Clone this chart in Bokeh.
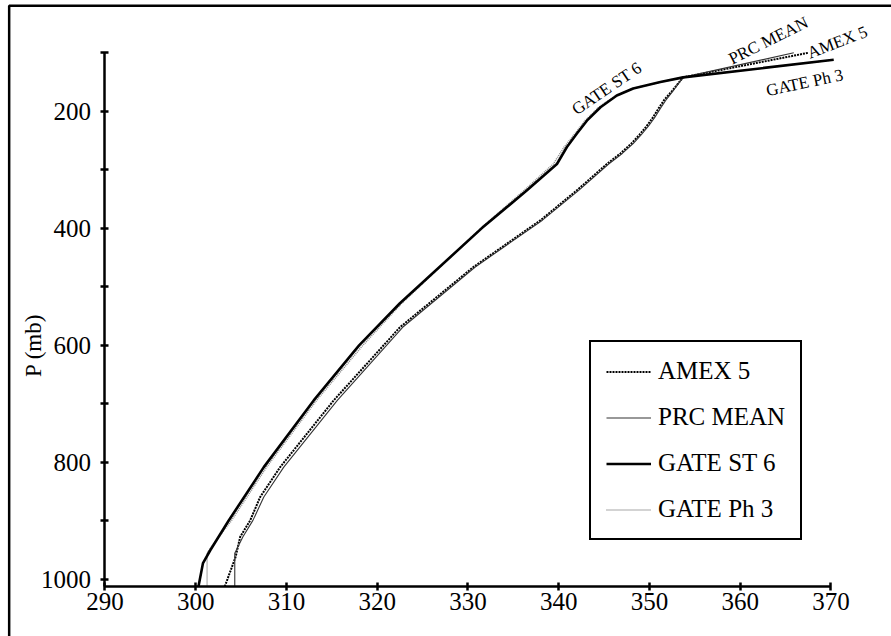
import math
from bokeh.plotting import figure
from bokeh.models import Range1d, FixedTicker, Legend, LegendItem, Label, BoxAnnotation
from bokeh.embed import file_html
from bokeh.resources import INLINE

# Equivalent potential temperature profiles (K) vs pressure (mb)
amex_P = [1012, 961, 927, 899, 859, 808, 694, 569, 466, 386, 335, 290, 272, 255, 240, 225, 210, 195, 181, 165, 142, 100]
amex_T = [303.2, 304.4, 304.9, 306.0, 307.1, 309.3, 315.2, 322.5, 330.6, 338.0, 342.0, 345.3, 346.8, 348.0, 348.9, 349.7, 350.4, 351.0, 351.6, 352.5, 353.7, 367.5]

prc_P = [1012, 955, 927, 899, 859, 808, 694, 569, 466, 386, 335, 290, 272, 255, 240, 225, 210, 195, 181, 165, 142, 100]
prc_T = [304.3, 304.3, 305.2, 306.3, 307.5, 309.7, 315.6, 322.8, 330.8, 338.2, 342.2, 345.5, 347.0, 348.2, 349.1, 349.9, 350.6, 351.2, 351.8, 352.6, 353.7, 365.9]

st6_P = [1012, 972, 950, 900, 808, 694, 600, 528, 400, 335, 290, 261, 238, 216, 193, 173, 161, 150, 142, 112]
st6_T = [300.3, 300.8, 301.6, 303.6, 307.5, 313.0, 318.0, 322.5, 331.5, 336.5, 339.8, 340.9, 342.0, 343.1, 344.6, 346.4, 348.2, 351.2, 353.7, 370.3]

ph3_P = [1012, 955, 930, 900, 808, 694, 600, 528, 400, 335, 290, 261, 238, 216, 193, 173, 161, 150, 142, 112]
ph3_T = [301.25, 301.25, 302.4, 303.9, 307.8, 313.3, 318.4, 322.7, 331.4, 336.2, 339.4, 340.6, 341.8, 342.9, 344.4, 346.3, 348.2, 351.2, 353.7, 370.3]

x_ticks = [290, 300, 310, 320, 330, 340, 350, 360, 370]
y_ticks = [100, 200, 300, 400, 500, 600, 700, 800, 900, 1000]
y_labels = {100: "", 200: "200", 300: "", 400: "400", 500: "", 600: "600", 700: "", 800: "800", 900: "", 1000: "1000"}

FONT = "Liberation Serif"

# the plotting frame covers the whole canvas; axes are pinned inside it
p = figure(width=891, height=636, output_backend="svg", toolbar_location=None,
           x_range=Range1d(278.485, 376.667), y_range=Range1d(1097.4, 10.63),
           min_border_left=0, min_border_right=0, min_border_top=0, min_border_bottom=0)
p.outline_line_color = None
p.xgrid.visible = False
p.ygrid.visible = False
p.background_fill_color = "white"
p.border_fill_color = "white"

p.xaxis.fixed_location = 1012
p.yaxis.fixed_location = 290
p.xaxis.bounds = (290, 370)
p.yaxis.bounds = (100, 1012)

for ax in (p.xaxis[0], p.yaxis[0]):
    ax.axis_line_width = 2.5
    ax.axis_line_color = "black"
    ax.major_tick_line_width = 2.5
    ax.major_tick_line_color = "black"
    ax.major_tick_in = 4
    ax.major_tick_out = 4
    ax.minor_tick_line_color = None
    ax.major_label_text_font = FONT
    ax.major_label_text_font_size = "25px"
    ax.major_label_text_color = "black"

p.xaxis.ticker = FixedTicker(ticks=x_ticks)
p.yaxis.ticker = FixedTicker(ticks=y_ticks)
p.yaxis.major_label_overrides = y_labels
p.yaxis.major_label_standoff = 10
p.xaxis.major_label_standoff = 2

r_amex = p.line(amex_T, amex_P, line_color="black", line_width=2.0, line_dash="2 1")
r_prc = p.line(prc_T, prc_P, line_color="#333333", line_width=1.1)
r_ph3 = p.line(ph3_T, ph3_P, line_color="#8a8a8a", line_width=1.6, line_dash="1 1")
r_st6 = p.line(st6_T, st6_P, line_color="black", line_width=2.6)

legend = Legend(items=[
    LegendItem(label="AMEX 5", renderers=[r_amex]),
    LegendItem(label="PRC MEAN", renderers=[r_prc]),
    LegendItem(label="GATE ST 6", renderers=[r_st6]),
    LegendItem(label="GATE Ph 3", renderers=[r_ph3]),
], location=(589, 96), orientation="vertical")
legend.margin = 0
legend.padding = 15
legend.spacing = 18
legend.label_height = 25
legend.glyph_height = 25
legend.glyph_width = 45
legend.label_standoff = 7
legend.label_width = 100
legend.label_text_font = FONT
legend.label_text_font_size = "25px"
legend.label_text_color = "black"
legend.border_line_color = "black"
legend.border_line_alpha = 1.0
legend.border_line_width = 2.5
legend.background_fill_alpha = 1
p.add_layout(legend, "center")

# curve labels (text, T, P, angle in degrees)
curve_labels = [
    ("GATE ST 6", 345.3, 161, 34),
    ("PRC MEAN", 363.1, 79, 26.5),
    ("AMEX 5", 370.7, 82, 21),
    ("GATE Ph 3", 367.1, 151, 12),
]
for txt, tx, ty, ang in curve_labels:
    p.add_layout(Label(x=tx, y=ty, text=txt, angle=math.radians(ang),
                       text_font=FONT, text_font_size="17px", text_color="black",
                       text_align="center", text_baseline="middle"))

p.add_layout(Label(x=282.1, y=600, text="P (mb)", angle=math.pi / 2,
                   text_font=FONT, text_font_size="23px", text_color="black",
                   text_align="center", text_baseline="middle"))

# outer frame of the figure (left and top edges visible)
p.add_layout(BoxAnnotation(left=279.44, right=400, top=19.69, bottom=1300,
                           fill_alpha=0, line_color="black", line_alpha=1.0, line_width=2.5))

open("out.html", "w").write(file_html(p, INLINE))
